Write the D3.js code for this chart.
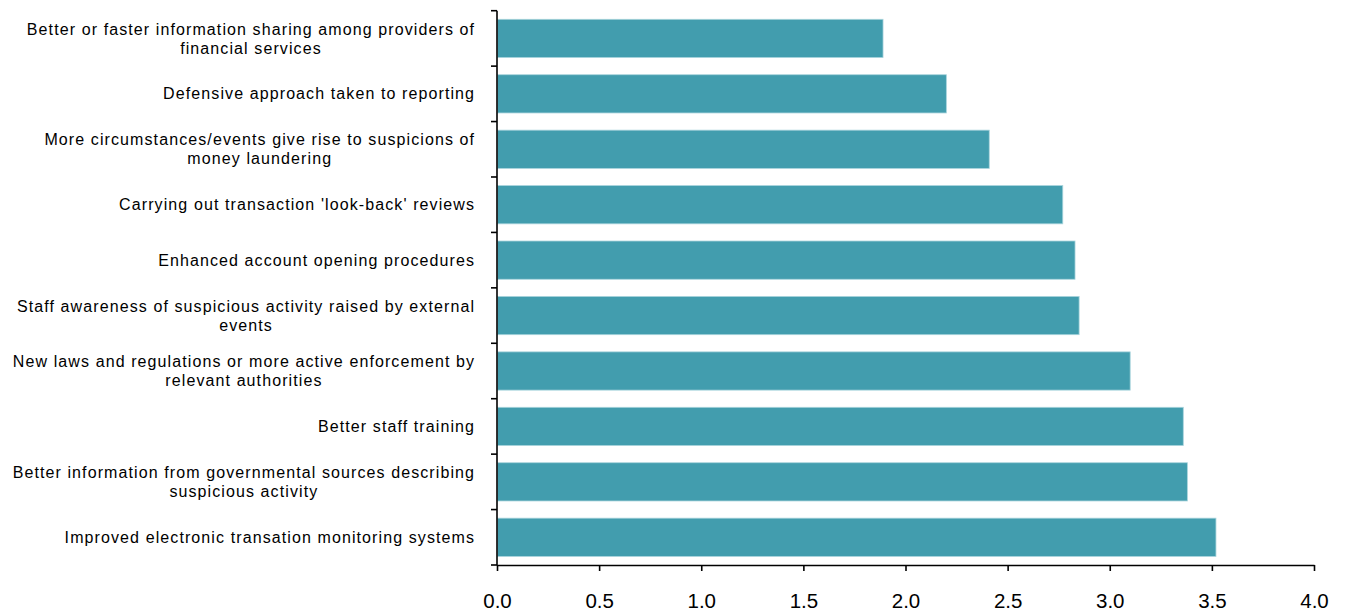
<!DOCTYPE html>
<html>
<head>
<meta charset="utf-8">
<script src="https://cdn.jsdelivr.net/npm/d3@7"></script>
<style>
  html, body { margin: 0; padding: 0; background: #fff; }
  svg { display: block; }
  text { font-family: "Liberation Sans", Arial, sans-serif; fill: #000; }
</style>
</head>
<body>
<svg id="chart" width="1345" height="612"></svg>
<script>
const categories = [
  ["Better or faster information sharing among providers of", "financial services"],
  ["Defensive approach taken to reporting"],
  ["More circumstances/events give rise to suspicions of", "money laundering"],
  ["Carrying out transaction 'look-back' reviews"],
  ["Enhanced account opening procedures"],
  ["Staff awareness of suspicious activity raised by external", "events"],
  ["New laws and regulations or more active enforcement by", "relevant authorities"],
  ["Better staff training"],
  ["Better information from governmental sources describing", "suspicious activity"],
  ["Improved electronic transation monitoring systems"]
];
const values = [1.89, 2.20, 2.41, 2.77, 2.83, 2.85, 3.10, 3.36, 3.38, 3.52];
const xTicks = [0, 0.5, 1.0, 1.5, 2.0, 2.5, 3.0, 3.5, 4.0];

(function() {
const svg = d3.select("#chart");
const mLeft = 497, mRight = 1314, mTop = 10.7, mBottom = 565;

const x = d3.scaleLinear().domain([0, 4]).range([mLeft, mRight]);
const y = d3.scaleBand().domain(d3.range(categories.length)).range([mTop, mBottom]).paddingInner(0.31).paddingOuter(0.155);

// bars
svg.append("g").selectAll("rect").data(values).join("rect")
  .attr("x", x(0) + 0.5)
  .attr("y", (d, i) => y(i))
  .attr("width", d => x(d) - x(0) - 0.5)
  .attr("height", y.bandwidth())
  .attr("fill", "#429dae")
  .attr("stroke", "#a9d4dc")
  .attr("stroke-width", 0.8);

// y axis with ticks at band boundaries
const yAxisG = svg.append("g");
yAxisG.append("line")
  .attr("x1", mLeft).attr("x2", mLeft).attr("y1", mTop).attr("y2", mBottom)
  .attr("stroke", "#000").attr("stroke-width", 1.6);
const step = (mBottom - mTop) / categories.length;
yAxisG.selectAll("line.tick").data(d3.range(categories.length + 1)).join("line")
  .attr("class", "tick")
  .attr("x1", mLeft - 6).attr("x2", mLeft)
  .attr("y1", i => mTop + i * step).attr("y2", i => mTop + i * step)
  .attr("stroke", "#000").attr("stroke-width", 1.6);

// category labels
const labelRight = 474;
const lineH = 19;
const ls = 1.1;
categories.forEach((lines, i) => {
  const cy = y(i) + y.bandwidth() / 2;
  const t = svg.append("text")
    .attr("font-size", 16)
    .attr("letter-spacing", ls)
    .attr("text-anchor", "middle");
  lines.forEach((ln, k) => {
    t.append("tspan")
      .attr("y", cy + (k - (lines.length - 1) / 2) * lineH)
      .attr("dy", "0.35em")
      .text(ln);
  });
  let maxW = 0;
  t.selectAll("tspan").each(function() { maxW = Math.max(maxW, this.getComputedTextLength()); });
  t.selectAll("tspan").attr("x", labelRight + ls - maxW / 2);
});

// x axis
const xAxis = d3.axisBottom(x).tickValues(xTicks).tickFormat(d3.format(".1f")).tickSize(6).tickSizeOuter(0);
const xg = svg.append("g").attr("transform", `translate(0,${mBottom})`).call(xAxis);
xg.select(".domain").attr("stroke", "#000").attr("stroke-width", 1.6);
xg.selectAll(".tick line").attr("stroke", "#000").attr("stroke-width", 1.6);
xg.selectAll(".tick text")
  .attr("font-family", "Liberation Sans, Arial, sans-serif")
  .attr("font-size", 20.5)
  .attr("fill", "#000")
  .attr("y", 28.3)
  .attr("dy", "0.71em");
})();
</script>
</body>
</html>
